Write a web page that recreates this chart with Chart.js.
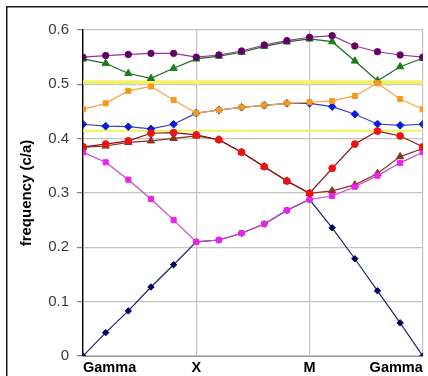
<!DOCTYPE html>
<html>
<head>
<meta charset="utf-8">
<script src="https://cdn.jsdelivr.net/npm/chart.js@4.4.1/dist/chart.umd.min.js"></script>
<style>
  html, body { margin: 0; padding: 0; background: #ffffff; }
  #wrap { width: 428px; height: 376px; }
</style>
</head>
<body>
<div id="wrap"><canvas id="bands" width="428" height="376"></canvas></div>
<script>
// k-path: Gamma -> X -> M -> Gamma, 5 steps per segment (16 sample points)
const kLabels = ['Gamma', '', '', '', '', 'X', '', '', '', '', 'M', '', '', '', '', 'Gamma'];
const kSteps = kLabels.map((_, i) => i);

// band frequencies (c/a) along the path
const band1 = [0, 0.043, 0.083, 0.127, 0.168, 0.21, 0.2135, 0.226, 0.243, 0.268, 0.288, 0.236, 0.179, 0.12, 0.061, 0];
const band2 = [0.375, 0.3565, 0.3245, 0.289, 0.25, 0.21, 0.2135, 0.226, 0.243, 0.268, 0.288, 0.2945, 0.3115, 0.332, 0.3555, 0.375];
const band3 = [0.384, 0.3865, 0.393, 0.396, 0.4005, 0.405, 0.398, 0.375, 0.3485, 0.322, 0.2995, 0.304, 0.315, 0.336, 0.367, 0.382];
const band4 = [0.385, 0.39, 0.396, 0.41, 0.411, 0.407, 0.398, 0.375, 0.3485, 0.322, 0.2995, 0.3455, 0.39, 0.414, 0.405, 0.385];
const band5 = [0.4265, 0.423, 0.422, 0.418, 0.4265, 0.447, 0.4528, 0.4577, 0.4614, 0.465, 0.465, 0.459, 0.445, 0.427, 0.4245, 0.4265];
const band6 = [0.454, 0.465, 0.488, 0.496, 0.471, 0.447, 0.4528, 0.4577, 0.4614, 0.465, 0.467, 0.4694, 0.4786, 0.502, 0.473, 0.454];
const band7 = [0.5467, 0.5387, 0.52, 0.511, 0.5295, 0.5467, 0.552, 0.559, 0.57, 0.578, 0.5835, 0.5785, 0.543, 0.5067, 0.5325, 0.548];
const band8 = [0.55, 0.553, 0.555, 0.557, 0.557, 0.55, 0.554, 0.5614, 0.5724, 0.5804, 0.5866, 0.5896, 0.5706, 0.56, 0.554, 0.55];

// gap edges marked across the whole path
const gapUpper = 0.504;
const gapLower = 0.4145;

const yTicks = { min: 0, max: 0.6, step: 0.1 };
const xTickStep = 5;

function band(data, line, fill, style, radius, order) {
  return {
    data: data,
    borderColor: line,
    backgroundColor: fill,
    pointBackgroundColor: fill,
    pointBorderColor: fill,
    pointStyle: style,
    pointRadius: radius,
    pointBorderWidth: 1,
    borderWidth: 1.2,
    tension: 0,
    order: order
  };
}

function flatLine(value, color, width, order) {
  const first = kSteps[0];
  const last = kSteps[kSteps.length - 1];
  return {
    data: [{ x: first, y: value }, { x: last, y: value }],
    borderColor: color,
    borderWidth: width,
    pointRadius: 0,
    order: order
  };
}

const framePlugin = {
  id: 'frame',
  beforeDraw(chart) {
    const ctx = chart.ctx;
    ctx.save();
    ctx.fillStyle = '#ffffff';
    ctx.fillRect(0, 0, chart.width, chart.height);
    ctx.strokeStyle = '#1a1a1a';
    ctx.lineWidth = 1.5;
    ctx.strokeRect(6.75, 6.75, 800, 800);
    ctx.restore();
  }
};

new Chart(document.getElementById('bands'), {
  type: 'line',
  data: {
    labels: kSteps,
    datasets: [
      band(band8, '#993399', '#660066', 'circle', 3.2, 1),
      band(band6, '#f5a640', '#f59a1c', 'rect', 3.6, 2),
      band(band4, '#8a1010', '#ee1111', 'circle', 3.4, 3),
      band(band2, '#cc44cc', '#ee22ee', 'rect', 3.6, 4),
      band(band7, '#1f6a1f', '#1a7f1a', 'triangle', 4.2, 5),
      band(band5, '#3344bb', '#0a1ed8', 'rectRot', 3.8, 6),
      band(band3, '#8b3322', '#8b3322', 'triangle', 4.2, 7),
      band(band1, '#222266', '#000060', 'rectRot', 3.2, 8),
      flatLine(gapUpper, '#f2f26a', 4, 9),
      flatLine(gapLower, '#f2f25a', 2, 10)
    ]
  },
  options: {
    responsive: false,
    animation: false,
    devicePixelRatio: 1,
    layout: { padding: { top: 30, right: 5, bottom: 0, left: 0 } },
    plugins: {
      legend: { display: false },
      title: { display: false },
      tooltip: { enabled: false }
    },
    elements: { line: { fill: false } },
    scales: {
      x: {
        type: 'linear',
        min: kSteps[0],
        max: kSteps[kSteps.length - 1],
        afterFit(scale) { scale.height = 20; },
        border: { display: true, color: '#9a9a9a', width: 1 },
        grid: {
          drawTicks: false,
          color: '#c4c4c4',
          lineWidth: 1.2
        },
        ticks: {
          stepSize: xTickStep,
          autoSkip: false,
          maxRotation: 0,
          align: 'inner',
          padding: 3,
          color: '#000000',
          callback: (value) => kLabels[value] || '',
          font: { family: 'Liberation Sans, Arial, sans-serif', size: 14.5, weight: 'bold' }
        }
      },
      y: {
        min: yTicks.min,
        max: yTicks.max,
        afterFit(scale) { scale.width = 83; },
        border: { display: true, color: '#000000', width: 1.4 },
        grid: {
          color: '#c4c4c4',
          lineWidth: 1.2,
          tickLength: 6,
          tickColor: '#808080'
        },
        ticks: {
          stepSize: yTicks.step,
          padding: 8,
          color: '#3a3a3a',
          font: { family: 'Liberation Sans, Arial, sans-serif', size: 15 }
        },
        title: {
          display: true,
          text: 'frequency (c/a)',
          color: '#000000',
          padding: { top: 18, bottom: 0 },
          font: { family: 'Liberation Sans, Arial, sans-serif', size: 15, weight: 'bold' }
        }
      }
    }
  },
  plugins: [framePlugin]
});
</script>
</body>
</html>
